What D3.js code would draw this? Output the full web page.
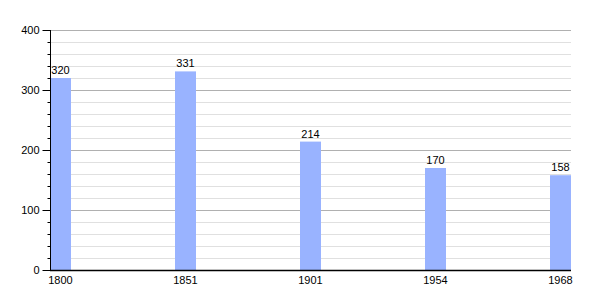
<html>
<head>
<script src="https://d3js.org/d3.v7.min.js"></script>
<style>
  body { margin: 0; background: #fff; font-family: 'Liberation Sans', Arial, sans-serif; }
</style>
</head>
<body>
<svg id="chart" width="600" height="300"></svg>
<script>
var years = ["1800", "1851", "1901", "1954", "1968"];
var population = [320, 331, 214, 170, 158];
var yTicks = [0, 100, 200, 300, 400];

var svg = d3.select("#chart");
var plotLeft = 50, plotRight = 571, plotTop = 30, plotBottom = 270, barW = 21;

var x = d3.scalePoint().domain(years).range([plotLeft, plotRight - barW]);
var y = d3.scaleLinear().domain([0, 400]).range([plotBottom, plotTop]);
var minorTicks = d3.range(20, 401, 20).filter(function (d) { return d % 100; });

// minor grid every 20
svg.selectAll("line.minor").data(minorTicks)
  .enter().append("line")
  .attr("x1", plotLeft).attr("x2", plotRight)
  .attr("y1", function (d) { return y(d) + 0.5; }).attr("y2", function (d) { return y(d) + 0.5; })
  .attr("stroke", "#e0e0e0").attr("stroke-width", 1);

// major grid every 100
svg.selectAll("line.major").data(yTicks.slice(1))
  .enter().append("line")
  .attr("x1", plotLeft).attr("x2", plotRight)
  .attr("y1", function (d) { return y(d) + 0.5; }).attr("y2", function (d) { return y(d) + 0.5; })
  .attr("stroke", "#b0b0b0").attr("stroke-width", 1);

// bars
svg.selectAll("rect.bar").data(population)
  .enter().append("rect")
  .attr("x", function (d, i) { return x(years[i]); })
  .attr("y", function (d) { return y(d); })
  .attr("width", barW)
  .attr("height", function (d) { return plotBottom - y(d); })
  .attr("fill", "#99b3ff");

// value labels
svg.selectAll("text.val").data(population)
  .enter().append("text")
  .attr("x", function (d, i) { return x(years[i]) + barW / 2; })
  .attr("y", function (d) { return y(d) - 4; })
  .attr("text-anchor", "middle")
  .attr("font-size", 11)
  .attr("fill", "#000")
  .text(function (d) { return d; });

// y axis
var yAxis = d3.axisLeft(y).tickValues(yTicks).tickSize(8).tickPadding(3);
var gy = svg.append("g").attr("transform", "translate(" + (plotLeft + 0.5) + ",0)").call(yAxis);
gy.select(".domain").attr("stroke", "#000").attr("d", "M0," + plotTop + "V" + plotBottom);
gy.selectAll(".tick line").attr("stroke", "#000");
gy.selectAll(".tick text").attr("font-size", 11).attr("fill", "#000")
  .attr("font-family", "'Liberation Sans', Arial, sans-serif");

var yMinor = d3.axisLeft(y).tickValues(minorTicks).tickSize(3).tickFormat("");
var gm = svg.append("g").attr("transform", "translate(" + (plotLeft + 0.5) + ",0)").call(yMinor);
gm.select(".domain").remove();
gm.selectAll(".tick line").attr("stroke", "#000");

// x axis
svg.append("line")
  .attr("x1", plotLeft).attr("x2", plotRight)
  .attr("y1", plotBottom + 0.5).attr("y2", plotBottom + 0.5)
  .attr("stroke", "#000").attr("stroke-width", 1.5);

svg.selectAll("text.year").data(years)
  .enter().append("text")
  .attr("x", function (d) { return x(d) + barW / 2; })
  .attr("y", plotBottom + 14)
  .attr("text-anchor", "middle")
  .attr("font-size", 11)
  .attr("fill", "#000")
  .text(function (d) { return d; });
</script>
</body>
</html>
